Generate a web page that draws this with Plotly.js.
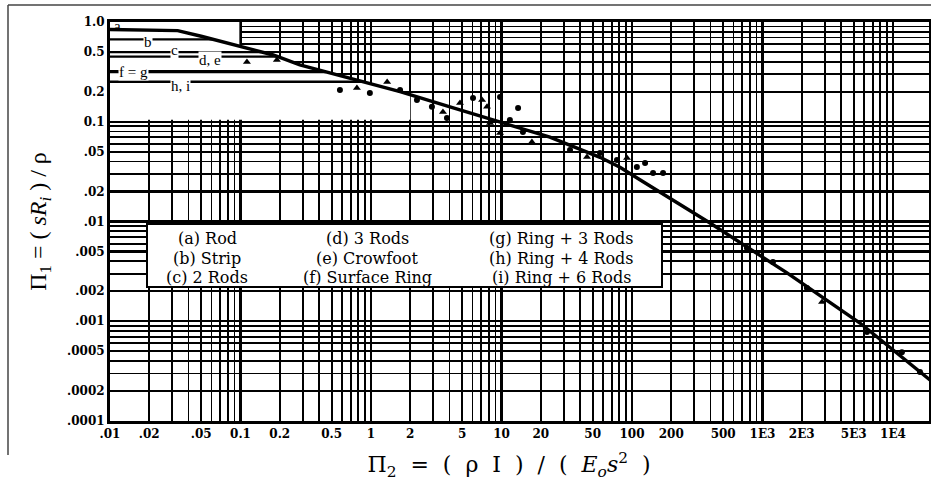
<!DOCTYPE html>
<html><head><meta charset="utf-8">
<script src="https://cdn.plot.ly/plotly-3.0.1.min.js"></script>
<style>html,body{margin:0;padding:0;background:#fff;} #chart{width:931px;height:481px;}</style>
</head><body><div id="chart"></div>
<script>
// ---- data ----
// universal curve Pi1 vs Pi2
const curveX = [0.01, 0.033, 0.05, 0.088, 0.178, 0.285, 0.69, 1.67, 4.03, 9.75, 23.5, 56.9, 80.9, 115, 396, 1542, 5585, 19200];
const curveY = [0.84, 0.82, 0.72, 0.59, 0.467, 0.371, 0.275, 0.2, 0.141, 0.0995, 0.070, 0.044, 0.035, 0.0262, 0.00966, 0.00305, 0.00096, 0.000258];

// low-Pi2 asymptotes of the electrode types
const lineBX = [0.01, 0.063];  const lineBY = [0.67, 0.67];
const lineCX = [0.01, 0.145];  const lineCY = [0.50, 0.50];
const lineDEX = [0.01, 0.19];  const lineDEY = [0.45, 0.45];
const lineFGX = [0.01, 0.45];  const lineFGY = [0.318, 0.318];
const lineHIX = [0.01, 0.88];  const lineHIY = [0.252, 0.252];
const lineLabels = ["a", "b", "c", "d, e", "f = g", "h, i"];

// measured points
const dotX = [0.578, 0.98, 1.67, 2.25, 2.93, 3.82, 6.05, 9.75, 13.4, 11.6, 14.6, 33.5, 56.9, 76.7, 109, 126, 145, 173, 760, 1202, 2190, 6320, 11700, 16100];
const dotY = [0.208, 0.194, 0.208, 0.165, 0.141, 0.109, 0.173, 0.177, 0.137, 0.104, 0.0789, 0.0521, 0.0486, 0.0414, 0.0352, 0.0386, 0.0306, 0.0306, 0.00542, 0.00393, 0.00215, 0.00078, 0.00049, 0.00031];
const triX = [0.112, 0.19, 1.33, 3.56, 4.81, 7.1, 7.75, 8.17, 9.75, 17.1, 45.2, 2860, 0.78, 91.6];
const triY = [0.397, 0.416, 0.25, 0.125, 0.154, 0.165, 0.141, 0.097, 0.077, 0.0627, 0.0443, 0.00156, 0.218, 0.0433];

// ticks
const xTickVals = [0.01, 0.02, 0.05, 0.1, 0.2, 0.5, 1, 2, 5, 10, 20, 50, 100, 200, 500, 1000, 2000, 5000, 10000];
const xTickText = [".01", ".02", ".05", "0.1", "0.2", "0.5", "1", "2", "5", "10", "20", "50", "100", "200", "500", "1E3", "2E3", "5E3", "1E4"];
const yTickVals = [1, 0.5, 0.2, 0.1, 0.05, 0.02, 0.01, 0.005, 0.002, 0.001, 0.0005, 0.0002, 0.0001];
const yTickText = ["1.0", "0.5", "0.2", "0.1", ".05", ".02", ".01", ".005", ".002", ".001", ".0005", ".0002", ".0001"];

// legend text
const legendLabels = [
  ["(a) Rod", "(b) Strip", "(c) 2 Rods"],
  ["(d) 3 Rods", "(e) Crowfoot", "(f) Surface Ring"],
  ["(g) Ring + 3 Rods", "(h) Ring + 4 Rods", "(i) Ring + 6 Rods"]
];

// ---- layout helpers (pixel -> paper) ----
const W = 931, H = 481, ML = 110, MR = 2, MT = 22, MB = 60;
const PW = W - ML - MR, PH = H - MT - MB;
const px = v => (v - ML) / PW;
const py = v => 1 - (v - MT) / PH;

function gridVals(lo, hi) {
  const out = [];
  for (let e = lo; e <= hi; e++) for (let m = 1; m <= 9; m++) out.push(m * Math.pow(10, e));
  return out;
}
// log-log interpolation on the curve arrays
function curveAt(x) {
  const lx = Math.log10(x);
  for (let i = 0; i < curveX.length - 1; i++) {
    const a = Math.log10(curveX[i]), b = Math.log10(curveX[i + 1]);
    if (lx >= a && lx <= b) {
      const f = (lx - a) / (b - a);
      return Math.pow(10, Math.log10(curveY[i]) + f * (Math.log10(curveY[i + 1]) - Math.log10(curveY[i])));
    }
  }
  return curveY[curveY.length - 1];
}
// grid-free (blank) zone of the original sheet: left of x=0.1 at the top, below the curve down to 0.105
const maskLeft = 0.098, maskRight = 2.0, maskBottom = 0.105;
const maskX = [curveX[0], maskLeft, maskLeft], maskY = [1, 1, curveAt(maskLeft)];
curveX.forEach((v, i) => { if (v > maskLeft && v < maskRight) { maskX.push(v); maskY.push(curveY[i]); } });
maskX.push(maskRight, maskRight, curveX[0]);
maskY.push(curveAt(maskRight), maskBottom, maskBottom);

const serif = "Liberation Serif, Times New Roman, serif";
const traces = [
  {x: maskX, y: maskY, mode: "lines", fill: "toself", fillcolor: "#fff", line: {width: 0, color: "#fff"}, hoverinfo: "skip"},
  {x: curveX, y: curveY, mode: "lines", line: {color: "#000", width: 3.4}},
  {x: lineBX, y: lineBY, mode: "lines", line: {color: "#000", width: 2.2}},
  {x: lineCX, y: lineCY, mode: "lines", line: {color: "#000", width: 2.2}},
  {x: lineDEX, y: lineDEY, mode: "lines", line: {color: "#000", width: 2.2}},
  {x: lineFGX, y: lineFGY, mode: "lines", line: {color: "#000", width: 3.2}},
  {x: lineHIX, y: lineHIY, mode: "lines", line: {color: "#000", width: 2.6}},
  {x: dotX, y: dotY, mode: "markers", marker: {symbol: "circle", size: 6, color: "#000"}},
  {x: triX, y: triY, mode: "markers", marker: {symbol: "triangle-up", size: 7, color: "#000"}}
];

const shapes = [
  {type: "rect", xref: "paper", yref: "paper", x0: px(147), x1: px(662), y0: py(287), y1: py(224),
   fillcolor: "#fff", line: {color: "#000", width: 2}, layer: "above"},
  {type: "line", xref: "paper", yref: "paper", x0: px(8), x1: px(931), y0: py(5), y1: py(5), line: {color: "#444", width: 1.5}},
  {type: "line", xref: "paper", yref: "paper", x0: px(8), x1: px(8), y0: py(5), y1: py(455), line: {color: "#444", width: 1.5}}
];

const annotations = [];
const labPos = [[117,26,false],[148,42,true],[174,50,true],[210,60,true],[133,72,true],[180,86,true]];
lineLabels.forEach((t, i) => {
  const p = labPos[i];
  annotations.push({xref: "paper", yref: "paper", x: px(p[0]), y: py(p[1]), text: t, showarrow: false,
    xanchor: "center", yanchor: "middle", bgcolor: p[2] ? "#fff" : "rgba(0,0,0,0)", borderpad: 0,
    font: {family: serif, size: 15, color: "#000"}});
});
const colX = [207, 367, 561], rowY = [238, 258, 277];
legendLabels.forEach((col, c) => col.forEach((t, r) => {
  annotations.push({xref: "paper", yref: "paper", x: px(colX[c]), y: py(rowY[r]), text: t, showarrow: false,
    xanchor: "center", yanchor: "middle", font: {family: "DejaVu Serif, serif", size: 16, color: "#000"}});
}));

const tickFont = {family: "DejaVu Serif, serif", size: 12, color: "#000", weight: "bold"};
const layout = {
  width: W, height: H,
  margin: {l: ML, r: MR, t: MT, b: MB, pad: 0},
  paper_bgcolor: "#fff", plot_bgcolor: "#fff",
  showlegend: false,
  xaxis: {
    type: "log", range: [-2, 4.276], autorange: false,
    tickmode: "array", tickvals: xTickVals, ticktext: xTickText, tickfont: tickFont,
    ticks: "", showgrid: true, gridcolor: "#000", gridwidth: 2.1, zeroline: false,
    minor: {tickmode: "array", tickvals: gridVals(-2, 4), showgrid: true, gridcolor: "#000", gridwidth: 1.8, ticks: ""},
    showline: true, linecolor: "#000", linewidth: 3, mirror: true, automargin: false,
    title: {text: "Π<sub>2</sub>&nbsp; = &nbsp;( &nbsp;ρ &nbsp;I &nbsp;) &nbsp;/ &nbsp;( &nbsp;<i>E<sub>o</sub>s</i><sup>2</sup>&nbsp; )&nbsp;&nbsp;&nbsp;", standoff: 19,
      font: {family: "DejaVu Serif, serif", size: 22, color: "#000"}}
  },
  yaxis: {
    type: "log", range: [-4, 0], autorange: false,
    tickmode: "array", tickvals: yTickVals, ticktext: yTickText, tickfont: tickFont,
    ticks: "", showgrid: true, gridcolor: "#000", gridwidth: 2.1, zeroline: false,
    minor: {tickmode: "array", tickvals: gridVals(-4, -1), showgrid: true, gridcolor: "#000", gridwidth: 1.8, ticks: ""},
    showline: true, linecolor: "#000", linewidth: 3, mirror: true, automargin: false,
    title: {text: "Π<sub>1</sub> = ( <i>sR</i><sub><i>i</i></sub> ) / ρ", standoff: 14,
      font: {family: serif, size: 24, color: "#000"}}
  },
  shapes: shapes,
  annotations: annotations
};

Plotly.newPlot("chart", traces, layout, {staticPlot: true, displayModeBar: false});
</script>
</body></html>
